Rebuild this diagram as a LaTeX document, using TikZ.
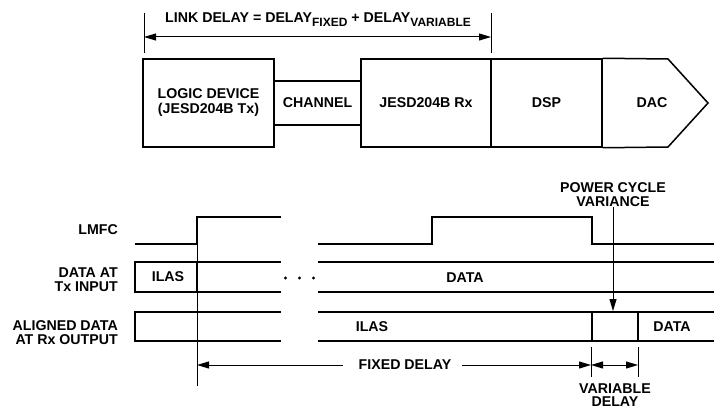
\documentclass[tikz,border=0pt]{standalone}
\usepackage{fontspec}
\setmainfont{Liberation Sans}
\usetikzlibrary{arrows.meta}
\begin{document}
\begin{tikzpicture}[x=1pt,y=-1pt,
  lbl/.style={font=\fontsize{14.2}{14}\selectfont\bfseries, inner sep=0pt},
  blk/.style={draw, line width=1.5pt, minimum height=88pt, inner sep=0pt, font=\fontsize{14.2}{15}\selectfont\bfseries, align=center},
  sig/.style={line width=1.9pt},
  thinln/.style={line width=1pt},
  tip/.style={-{Triangle[length=12pt,width=7pt]}},
  tips/.style={{Triangle[length=12pt,width=7pt]}-{Triangle[length=12pt,width=7pt]}},
]
\useasboundingbox (0,0) rectangle (714,409);

% ---------- top: link delay ----------
\node[lbl, anchor=base west] (title) at (165,23) {LINK DELAY = DELAY\raisebox{-4pt}{\fontsize{12}{12}\selectfont FIXED} + DELAY\raisebox{-4pt}{\fontsize{12}{12}\selectfont VARIABLE}};
\coordinate (lt) at (144,13); \coordinate (lb) at (144,53);
\coordinate (rt) at (491,13); \coordinate (rb) at (491,53);
\coordinate (la) at (144,37); \coordinate (ra) at (491,37);
\draw[thinln] (lt) -- (lb);
\draw[thinln] (rt) -- (rb);
\draw[thinln,tips] (la) -- (ra);

% ---------- block chain ----------
\node[blk, minimum width=131pt] (logic) at (208.5,103) {LOGIC DEVICE\\(JESD204B Tx)};
\node[blk, minimum width=87pt, minimum height=44pt] (chan) at (317.5,103) {CHANNEL};
\node[blk, minimum width=130pt] (rx) at (426,103) {JESD204B Rx};
\node[blk, minimum width=111pt] (dsp) at (546.5,103) {DSP};
\coordinate (dtop) at (668,59); \coordinate (dtip) at (708,103); \coordinate (dbot) at (668,147);
\draw[line width=1.5pt] (dsp.north east) -- (dtop) -- (dtip) -- (dbot) -- (dsp.south east);
\node[lbl] (dac) at (652,103) {DAC};

% ---------- row labels ----------
\node[lbl, anchor=east] (lmfc) at (118,230) {LMFC};
\node[lbl, anchor=east, align=right] (txin) at (118,280) {DATA AT\\Tx INPUT};
\node[lbl, anchor=east, align=right] (rxout) at (118,333) {ALIGNED DATA\\AT Rx OUTPUT};

% ---------- LMFC ----------
\draw[sig] (135,244) -- (197,244) -- (197,217) -- (281,217);
\draw[sig] (318,244) -- (432,244) -- (432,217) -- (592,217) -- (592,244) -- (714,244);

% ---------- DATA AT Tx INPUT ----------
\draw[sig] (281,262) -- (135,262) -- (135,292) -- (281,292);
\draw[sig] (318,262) -- (714,262);
\draw[sig] (318,292) -- (714,292);
\draw[sig] (197,262) -- (197,292);
\node[lbl] (ilas1) at (168,277) {ILAS};
\node[lbl] (data1) at (465,278) {DATA};
\fill (285.5,278) circle (1.6pt) (299.5,278) circle (1.6pt) (313.5,278) circle (1.6pt);

% ---------- ALIGNED DATA AT Rx OUTPUT ----------
\draw[sig] (281,312) -- (135,312) -- (135,341) -- (281,341);
\draw[sig] (318,312) -- (714,312);
\draw[sig] (318,341) -- (714,341);
\draw[sig] (592,312) -- (592,341);
\draw[sig] (638,312) -- (638,341);
\node[lbl] (ilas2) at (372,327) {ILAS};
\node[lbl] (data2) at (672,327) {DATA};

% ---------- reference line and delays ----------
\coordinate (reftop) at (197,244); \coordinate (refbot) at (197,386);
\draw[thinln] (reftop) -- (refbot);

\node[lbl, align=center] (pcv) at (613,195) {POWER CYCLE\\VARIANCE};
\coordinate (pcvend) at (613,311);
\draw[thinln,tip] (pcv.south) -- (pcvend);

\node[lbl] (fd) at (405,365) {FIXED DELAY};
\coordinate (fdl) at (197,365);
\coordinate (vl) at (591,365); \coordinate (vr) at (638,365);
\draw[thinln,tip] ([xshift=-16pt]fd.west) -- (fdl);
\draw[thinln,tip] ([xshift=11pt]fd.east) -- (vl);
\draw[thinln] (591,347) -- (591,377);
\draw[thinln] (638,347) -- (638,377);
\draw[thinln,tips] (vl) -- (vr);
\node[lbl, align=center, anchor=north, font=\fontsize{14.2}{13}\selectfont\bfseries] (vd) at (615,384) {VARIABLE\\DELAY};
\end{tikzpicture}
\end{document}
